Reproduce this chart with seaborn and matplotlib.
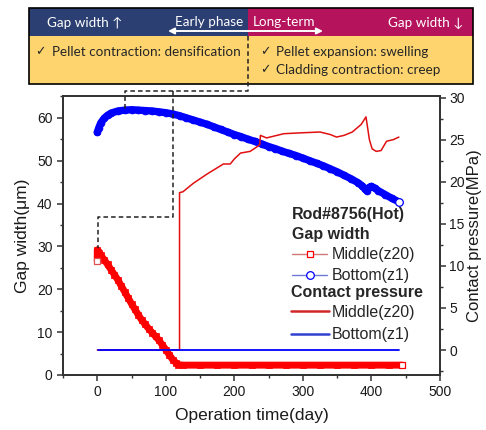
import matplotlib
matplotlib.use("Agg")
import matplotlib.pyplot as plt
from matplotlib.patches import Rectangle
from matplotlib.lines import Line2D
import seaborn as sns
import pandas as pd

# ---------------- data ----------------
# Gap width, Bottom(z1)  [um]
days_bottom = [0, 2, 5, 10, 15, 20, 30, 40, 50, 60, 70, 80, 90, 100, 110, 120, 130, 140, 150,
               160, 170, 180, 190, 200, 210, 220, 230, 240, 250, 260, 270, 280, 290, 300, 310,
               320, 330, 340, 350, 360, 370, 380, 386, 390, 393, 397, 400, 405, 410, 420, 430, 440]
gap_bottom = [56.6, 57.6, 58.8, 59.9, 60.6, 61.1, 61.6, 61.8, 61.9, 61.8, 61.7, 61.6, 61.4, 61.2,
              60.9, 60.5, 60.0, 59.5, 59.0, 58.5, 57.9, 57.3, 56.7, 56.1, 55.6, 55.0, 54.5, 53.9,
              53.3, 52.8, 52.2, 51.7, 51.2, 50.6, 50.0, 49.4, 48.8, 48.1, 47.4, 46.6, 45.8, 44.9,
              44.2, 43.5, 43.0, 43.8, 44.0, 43.6, 43.0, 42.1, 41.2, 40.4]

# Gap width, Middle(z20)  [um]
days_middle = [0, 0, 1, 2, 5, 10, 15, 20, 25, 30, 35, 40, 45, 50, 55, 60, 65, 70, 75, 80, 85,
               90, 95, 100, 105, 110, 115, 118, 125, 150, 175, 200, 225, 250, 275, 300, 325,
               350, 375, 400, 425, 445]
gap_middle = [26.6, 29.2, 28.8, 28.5, 28.0, 26.9, 25.8, 24.6, 23.4, 22.2, 20.8, 19.4, 18.0, 16.6,
              15.3, 14.0, 12.8, 11.8, 10.8, 9.9, 9.0, 8.1, 7.0, 5.9, 4.7, 3.6, 2.8, 2.4, 2.3,
              2.3, 2.3, 2.3, 2.3, 2.3, 2.3, 2.3, 2.3, 2.3, 2.3, 2.3, 2.3, 2.3]

# Contact pressure, Middle(z20)  [MPa]
days_cp_middle = [0, 120, 120, 125, 140, 160, 184, 194, 200, 209, 223, 234, 237, 238, 247, 272,
                  296, 325, 340, 349, 360, 372, 385, 392, 397, 401, 407, 414, 422, 432, 440]
cp_middle = [0, 0, 18.7, 18.8, 19.8, 20.9, 22.1, 22.1, 22.7, 23.4, 23.6, 24.2, 24.4, 25.5, 25.2,
             25.7, 25.8, 25.9, 25.6, 25.3, 25.5, 25.9, 26.8, 27.7, 25.0, 23.9, 23.6, 23.7, 24.8,
             25.0, 25.3]

# Contact pressure, Bottom(z1)  [MPa]
days_cp_bottom = [1, 440]
cp_bottom = [0, 0]

x_ticks = [0, 100, 200, 300, 400, 500]
y_ticks_gap = [0, 10, 20, 30, 40, 50, 60]
y_ticks_cp = [0, 5, 10, 15, 20, 25, 30]

# ---------------- style ----------------
sns.set_style("ticks")
plt.rcParams["font.family"] = ["Liberation Sans", "DejaVu Sans"]

W, H = 486, 430
fig = plt.figure(figsize=(W / 100, H / 100), dpi=100)

RED = "#ff0000"
BLUE = "#0000ff"
SPINE = "#333333"

ax = fig.add_axes([63 / W, 1 - 375 / H, 377 / W, 279 / H])
ax2 = ax.twinx()

df_b = pd.DataFrame({"day": days_bottom, "gap": gap_bottom})
df_m = pd.DataFrame({"day": days_middle, "gap": gap_middle})
df_cpm = pd.DataFrame({"day": days_cp_middle, "cp": cp_middle})
df_cpb = pd.DataFrame({"day": days_cp_bottom, "cp": cp_bottom})

# gap width bands (dense markers in the original)
sns.lineplot(data=df_m, x="day", y="gap", ax=ax, color=RED, lw=5.0, estimator=None, sort=False,
             marker="s", markersize=4.0, markerfacecolor=RED, markeredgecolor=RED,
             markeredgewidth=0.5, legend=False)
sns.lineplot(data=df_b, x="day", y="gap", ax=ax, color=BLUE, lw=5.3, estimator=None, sort=False,
             marker="o", markersize=5.0, markerfacecolor=BLUE, markeredgecolor=BLUE,
             markeredgewidth=0.5, legend=False)
# open end markers
sns.lineplot(data=df_m.tail(1), x="day", y="gap", ax=ax, color=RED, lw=0, estimator=None,
             marker="s", markersize=4.5, markerfacecolor="white", markeredgecolor=RED,
             markeredgewidth=0.9, legend=False)
sns.lineplot(data=df_b.tail(1), x="day", y="gap", ax=ax, color=BLUE, lw=0, estimator=None,
             marker="o", markersize=5.5, markerfacecolor="white", markeredgecolor=BLUE,
             markeredgewidth=0.9, legend=False)
sns.lineplot(data=df_m.head(1), x="day", y="gap", ax=ax, color=RED, lw=0, estimator=None,
             marker="s", markersize=4.5, markerfacecolor="white", markeredgecolor="#e05050",
             markeredgewidth=0.9, legend=False)

# contact pressure
sns.lineplot(data=df_cpm, x="day", y="cp", ax=ax2, color="#e01010", lw=1.1, estimator=None,
             sort=False, legend=False)
sns.lineplot(data=df_cpb, x="day", y="cp", ax=ax2, color=BLUE, lw=1.3, estimator=None,
             sort=False, legend=False)

ax.set_xlim(-50, 500)
ax.set_ylim(0, 65.1)
ax2.set_ylim(-2.97, 30.18)
ax.set_xticks(x_ticks)
ax.set_xticks([-50, 50, 150, 250, 350, 450], minor=True)
ax.set_yticks(y_ticks_gap)
ax.set_yticks([5, 15, 25, 35, 45, 55, 65], minor=True)
ax2.set_yticks(y_ticks_cp)
ax2.set_yticks([-2.5, 2.5, 7.5, 12.5, 17.5, 22.5, 27.5], minor=True)

for a in (ax, ax2):
    for s in a.spines.values():
        s.set_color(SPINE)
        s.set_linewidth(1.3)
    a.tick_params(which="major", direction="out", length=4, width=1.1, colors=SPINE,
                  labelsize=10, labelcolor="#1a1a1a")
    a.tick_params(which="minor", direction="out", length=2.5, width=1.0, colors=SPINE)
ax.tick_params(axis="x", top=False, which="both")
ax2.tick_params(axis="y", left=False, right=True, which="both", pad=2.5)
ax.tick_params(axis="y", right=False, which="both")

ax.set_xlabel("Operation time(day)", fontsize=12.5, labelpad=6, color="#1a1a1a")
ax.set_ylabel("Gap width(μm)", fontsize=12.5, labelpad=5, color="#1a1a1a")
ax2.set_ylabel("Contact pressure(MPa)", fontsize=12, labelpad=2, color="#1a1a1a")

# ---------------- overlay (pixel coordinates) ----------------
oax = fig.add_axes([0, 0, 1, 1], zorder=10)
oax.set_xlim(0, W)
oax.set_ylim(H, 0)
oax.set_axis_off()
oax.patch.set_alpha(0)

dash = dict(color="#222222", lw=1.1, linestyle=(0, (3, 2)))
oax.plot([248, 248, 125, 125], [36, 91, 91, 110], **dash)
oax.plot([173, 173, 98, 98], [91, 217, 217, 248], **dash)

# legend headers and entries
fs_leg = 11.5
oax.text(292, 214, "Rod#8756(Hot)", fontsize=fs_leg, fontweight="bold", va="center", ha="left")
oax.text(292, 234, "Gap width", fontsize=fs_leg, fontweight="bold", va="center", ha="left")
oax.text(291, 293, "Contact pressure", fontsize=fs_leg, fontweight="bold", va="center", ha="left")

h_gm = Line2D([], [], color="#d07878", lw=1.0, marker="s", markersize=5, markerfacecolor="white",
              markeredgecolor=RED, markeredgewidth=0.9)
h_gb = Line2D([], [], color="#6f7ad8", lw=1.0, marker="o", markersize=5.5, markerfacecolor="white",
              markeredgecolor=BLUE, markeredgewidth=0.9)
h_cm = Line2D([], [], color="#d02828", lw=1.8)
h_cb = Line2D([], [], color="#3040d0", lw=1.8)

leg1 = oax.legend([h_gm, h_gb], ["Middle(z20)", "Bottom(z1)"], loc="upper left",
                  bbox_to_anchor=(292, 247.5), bbox_transform=oax.transData, frameon=False,
                  fontsize=fs_leg, borderpad=0, borderaxespad=0, handlelength=2.2,
                  handletextpad=0.3, labelspacing=0.35)
oax.add_artist(leg1)
leg2 = oax.legend([h_cm, h_cb], ["Middle(z20)", "Bottom(z1)"], loc="upper left",
                  bbox_to_anchor=(291, 305), bbox_transform=oax.transData, frameon=False,
                  fontsize=fs_leg, borderpad=0, borderaxespad=0, handlelength=2.35,
                  handletextpad=0.2, labelspacing=0.45)

# ---------------- top banner ----------------
bax = fig.add_axes([29 / W, 1 - 84 / H, 444 / W, 76 / H], zorder=5)
bax.set_xlim(0, 444)
bax.set_ylim(76, 0)
bax.set_axis_off()
NAVY = "#2c3f72"
MAG = "#b5135c"
YEL = "#fdd46e"
bax.add_patch(Rectangle((0, 0), 219, 28, fc=NAVY, ec="none", clip_on=False))
bax.add_patch(Rectangle((219, 0), 225, 28, fc=MAG, ec="none", clip_on=False))
bax.add_patch(Rectangle((0, 28), 444, 48, fc=YEL, ec="none", clip_on=False))
bax.add_patch(Rectangle((0, 0), 444, 76, fill=False, ec="black", lw=1.2, clip_on=False))

bfam = ["Lato", "DejaVu Sans"]
bfs = 9.7
bax.text(18, 14.5, "Gap width ↑", color="white", fontsize=bfs, family=bfam, va="center", ha="left")
bax.text(434, 14.5, "Gap width ↓", color="white", fontsize=bfs, family=bfam, va="center", ha="right")
bax.text(214, 14.5, "Early phase", color="white", fontsize=bfs, family=bfam, va="center", ha="right")
bax.text(224, 14.5, "Long-term", color="white", fontsize=bfs, family=bfam, va="center", ha="left")
bax.annotate("", xy=(139, 23), xytext=(294, 23),
             arrowprops=dict(arrowstyle="<|-|>", color="white", lw=1.4, mutation_scale=9,
                             shrinkA=0, shrinkB=0))
bax.text(6, 43.5, "✓", fontsize=9, family=["DejaVu Sans"], va="center", ha="left")
bax.text(23, 43.5, "Pellet contraction: densification", fontsize=bfs, family=bfam, va="center", ha="left")
bax.text(231, 43.5, "✓", fontsize=9, family=["DejaVu Sans"], va="center", ha="left")
bax.text(247, 43.5, "Pellet expansion: swelling", fontsize=bfs, family=bfam, va="center", ha="left")
bax.text(231, 61.5, "✓", fontsize=9, family=["DejaVu Sans"], va="center", ha="left")
bax.text(247, 61.5, "Cladding contraction: creep", fontsize=bfs, family=bfam, va="center", ha="left")

fig.savefig("out.png", dpi=100)
